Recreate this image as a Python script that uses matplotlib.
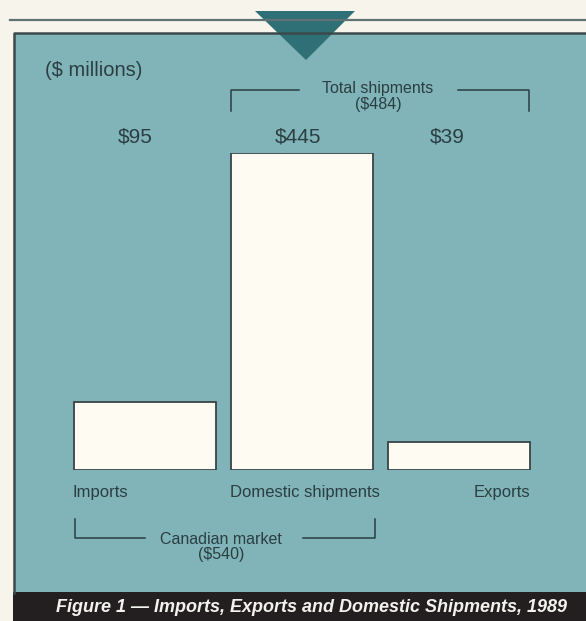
import matplotlib
matplotlib.use("Agg")
import matplotlib.pyplot as plt
from matplotlib.patches import Rectangle, Polygon

categories = ["Imports", "Domestic shipments", "Exports"]
values = [95, 445, 39]
value_labels = ["$95", "$445", "$39"]

W, H = 586, 621
TEAL = "#80b4b8"
CREAM = "#fdfbf2"
INK = "#2b3e42"
plt.rcParams["font.family"] = ["Liberation Sans", "DejaVu Sans"]

fig = plt.figure(figsize=(W / 100, H / 100), dpi=100, facecolor="#f7f4ec")

# background layer in pixel coordinates
bg = fig.add_axes([0, 0, 1, 1])
bg.set_xlim(0, W)
bg.set_ylim(H, 0)
bg.axis("off")
bg.plot([10, W], [20, 20], color="#5f7275", lw=1.6)
bg.add_patch(Rectangle((14, 33), W - 14, 560, facecolor=TEAL, edgecolor="none"))
bg.plot([14, 14, W], [593, 33, 33], color="#3a4a4c", lw=1.8)
bg.add_patch(Rectangle((13, 592), W - 13, H - 592, facecolor="#231f20", edgecolor="none"))
bg.add_patch(Polygon([[255, 11], [355, 11], [306, 60]], closed=True,
                     facecolor="#2f6f76", edgecolor="none"))
bg.text(45, 71, "($ millions)", fontsize=14.5, color=INK, va="center", ha="left")

# top bracket
bg.plot([231, 231, 299], [111, 90, 90], color=INK, lw=1.1)
bg.plot([458, 529, 529], [90, 90, 111], color=INK, lw=1.1)
bg.text(378, 89, "Total shipments", fontsize=11.5, color=INK, ha="center", va="center")
bg.text(378, 105, "($484)", fontsize=11.5, color=INK, ha="center", va="center")

# bottom bracket
bg.plot([75, 75, 145], [519, 538, 538], color=INK, lw=1.1)
bg.plot([303, 375, 375], [538, 538, 519], color=INK, lw=1.1)
bg.text(221, 539, "Canadian market", fontsize=11.5, color=INK, ha="center", va="center")
bg.text(221, 555, "($540)", fontsize=11.5, color=INK, ha="center", va="center")

bg.text(311, 607, "Figure 1 \u2014 Imports, Exports and Domestic Shipments, 1989",
        fontsize=13, color="#f2f2ee", fontweight="bold", style="italic",
        ha="center", va="center")

# bars
bar_bottom, bar_top = 470, 153
ax = fig.add_axes([66.5 / W, (H - bar_bottom) / H, 471 / W, (bar_bottom - bar_top) / H])
ax.set_xlim(-0.5, 2.5)
ax.set_ylim(0, max(values))
ax.axis("off")
x = list(range(len(values)))
ax.bar(x, values, width=0.9, color=CREAM, edgecolor="#3a4446", linewidth=1.3)
label_shift = [-0.064, -0.025, -0.076]
for i, lab, dx in zip(x, value_labels, label_shift):
    ax.text(i + dx, max(values) * 1.05, lab, fontsize=15, color=INK,
            ha="center", va="center", clip_on=False)

# category labels
bg.text(73, 492, categories[0], fontsize=12, color=INK, ha="left", va="center")
bg.text(305, 492, categories[1], fontsize=12, color=INK, ha="center", va="center")
bg.text(530, 492, categories[2], fontsize=12, color=INK, ha="right", va="center")

fig.savefig("out.png", dpi=100, facecolor=fig.get_facecolor())
